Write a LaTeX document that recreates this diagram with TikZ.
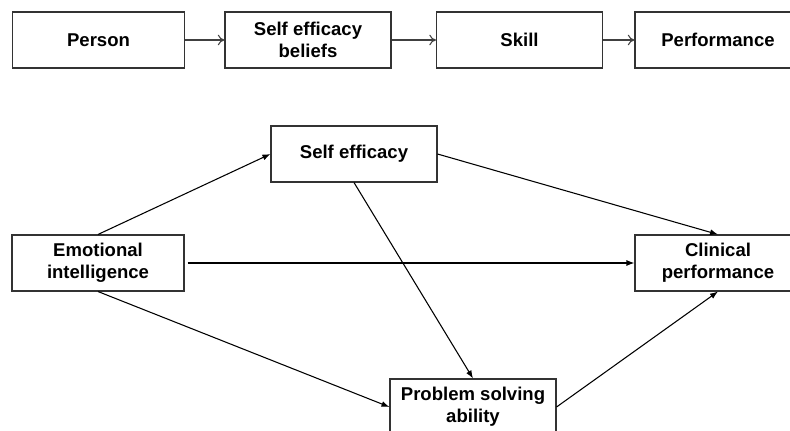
\documentclass[tikz,border=0pt]{standalone}
\usepackage{fontspec}
\setmainfont{Liberation Sans}
\usetikzlibrary{arrows.meta}

\tikzset{
    box/.style={draw=black!80, line width=0.8pt, minimum width=166*0.75pt, minimum height=56*0.75pt,
        align=center, inner sep=2pt, font=\fontsize{13.9}{16.3}\selectfont\bfseries},
    widebox/.style={box, minimum width=172*0.75pt},
    link/.style={draw=black!75, line width=0.8pt, -{To[length=5pt,width=8pt]}},
    path/.style={draw=black, line width=0.8pt, -{Latex[length=6pt,width=4.5pt]}}
}

\begin{document}
\begin{tikzpicture}[x=0.75pt,y=-0.75pt]
    \useasboundingbox (0,0) rectangle (790,431);

    % top row
    \node[widebox] (person) at (98.5,40) {Person};
    \node[box] (beliefs) at (308,40) {Self efficacy\\beliefs};
    \node[box] (skill) at (519.5,40) {Skill};
    \node[box] (perf) at (718,40) {Performance};
    \draw[link] (person) -- (beliefs);
    \draw[link] (beliefs) -- (skill);
    \draw[link] (skill) -- (perf);

    % model
    \node[box] (efficacy) at (354,154) {Self efficacy};
    \node[widebox] (emotion) at (98,263) {Emotional\\intelligence};
    \node[box] (clinical) at (718,263) {Clinical\\performance};
    \node[box] (problem) at (473,407) {Problem solving\\ability};
    \draw[path] (emotion.north) -- (efficacy.west);
    \draw[path] (emotion.east) ++(3,0) -- (clinical.west);
    \draw[path] (emotion.south) -- (problem.west);
    \draw[path] (efficacy.east) -- (clinical.north);
    \draw[path] (efficacy.south) -- (problem.north);
    \draw[path] (problem.east) -- (clinical.south);
\end{tikzpicture}
\end{document}
